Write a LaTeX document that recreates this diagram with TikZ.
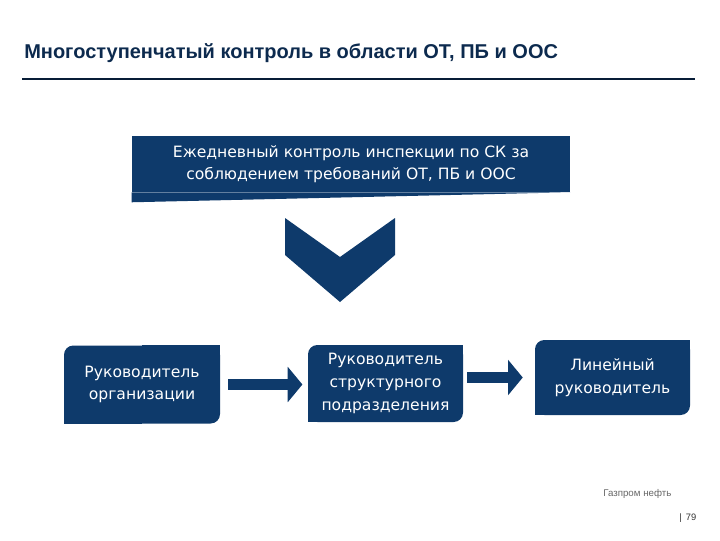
\documentclass[tikz,border=0pt]{standalone}
\usepackage{fontspec}
\setmainfont{DejaVu Sans}
\newfontfamily\titlefont{Liberation Sans}
\newfontfamily\footfont{Liberation Sans}
\usepackage{xcolor}
\usetikzlibrary{arrows.meta,backgrounds}

\definecolor{gpnavy}{RGB}{14,58,107}
\definecolor{gptitle}{RGB}{12,42,78}

\begin{document}
\begin{tikzpicture}[x=0.75pt,y=0.75pt,yscale=-1,xscale=1,
  stepbox/.style={fill=gpnavy, text=white, align=center, inner sep=0pt, rounded corners=7pt, font=\fontsize{11.7}{17}\selectfont},
  blockarrow/.style={gpnavy, line width=8.25pt, -{Triangle[length=11pt,width=26pt]}}]
\useasboundingbox (0,0) rectangle (720,540);

% Title
\node (title) [anchor=base west, inner sep=0pt, text=gptitle, font=\titlefont\bfseries\fontsize{15}{18}\selectfont] at (24,58) {Многоступенчатый контроль в области ОТ, ПБ и ООС};
%Straight Lines
\draw [line width=0.9pt, color=gptitle!70!black] (22,79) -- (695,79);

% Top box
\node (sk) [fill=gpnavy, text=white, align=center, inner sep=0pt, minimum width=328.5pt, minimum height=42pt, font=\fontsize{11.7}{16.5}\selectfont] at (351,164) {Ежедневный контроль инспекции по СК за\\соблюдением требований ОТ, ПБ и ООС};
\fill [gpnavy] (sk.south west) -- ++(0,10) -- (sk.south east) -- cycle;

% Chevron
\fill [gpnavy] (285,218) -- (340,257) -- (395,218) -- (395,255) -- (340,302) -- (285,255) -- cycle;

% Step boxes
\node (org) [stepbox, minimum width=117pt, minimum height=58.5pt] at (142,384.5) {Руководитель\\организации};
\node (ruk) [stepbox, minimum width=116.25pt, minimum height=57.75pt] at (385.5,383.5) {Руководитель\\структурного\\подразделения};
\node (lin) [stepbox, minimum width=116.25pt, minimum height=56.25pt] at (612.5,377.5) {Линейный\\руководитель};

% square corners behind the boxes
\begin{scope}[on background layer]
\fill [gpnavy] (org.north east) rectangle (org.center);
\fill [gpnavy] (org.south west) rectangle (org.center);
\fill [gpnavy] (ruk.north east) rectangle (ruk.center);
\fill [gpnavy] (ruk.south west) rectangle (ruk.center);
\fill [gpnavy] (lin.north east) rectangle (lin.center);
\fill [gpnavy] (lin.south west) rectangle (lin.center);
\end{scope}

% Arrows
\draw [blockarrow, shorten <=6pt, shorten >=4pt] (org.east) -- (ruk.west |- org.east);
\draw [blockarrow, shorten <=3pt, shorten >=9pt] (ruk.east |- lin.west) -- (lin.west);

% Footer
\node (firm) [anchor=base west, inner sep=0pt, text=black!60, font=\footfont\fontsize{7.3}{9}\selectfont] at (603,496) {Газпром нефть};
\node (page) [anchor=base west, inner sep=0pt, text=black!80, font=\footfont\fontsize{7}{9}\selectfont] at (679,520) {|\, 79};

\end{tikzpicture}
\end{document}
